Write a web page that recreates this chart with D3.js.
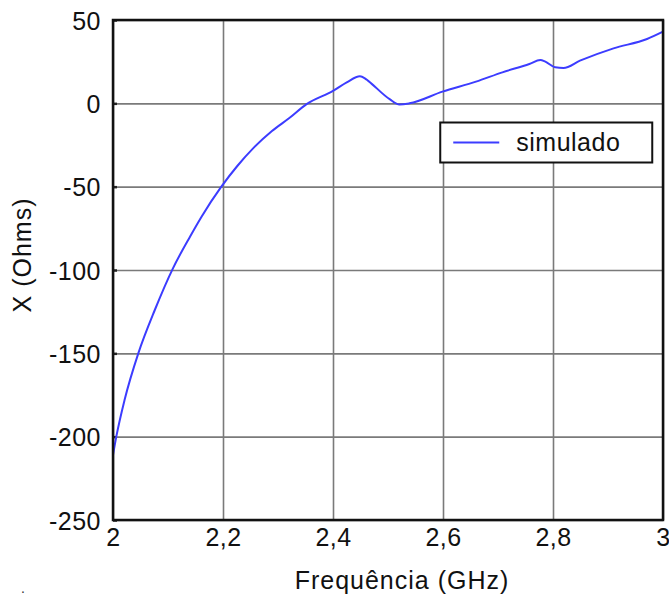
<!DOCTYPE html>
<html>
<head>
<meta charset="utf-8">
<script src="https://cdn.jsdelivr.net/npm/d3@7"></script>
<style>
  body { margin: 0; background: #fff; }
  svg { display: block; font-family: "Liberation Sans", Arial, sans-serif; }
  .grid line { stroke: #7a7a7a; stroke-width: 1.6; }
  .grid path { display: none; }
  .axis text { font-size: 25px; fill: #111; letter-spacing: 0.5px; }
  .axis path, .axis line { display: none; }
</style>
</head>
<body>
<script>
// frequency (GHz) and reactance X (Ohms)
var freq = [2.0, 2.006, 2.021, 2.046, 2.076, 2.109, 2.14, 2.161, 2.197, 2.226, 2.256, 2.289, 2.32, 2.352,
            2.4, 2.425, 2.449, 2.458, 2.464, 2.503, 2.521, 2.539, 2.599, 2.66, 2.708, 2.757, 2.777,
            2.786, 2.804, 2.819, 2.849, 2.91, 2.971, 3.0];
var reactance = [-211, -200, -178, -150, -124, -99, -80, -68, -50, -37.6, -26.6, -16.6, -9, -0.5,
                 7.5, 12.6, 16.2, 15, 13.5, 2.5, -0.7, 0, 7, 13, 18.6, 23.6, 26,
                 25, 21.6, 21.2, 25.6, 33, 38.6, 43];

var xTicks = [2, 2.2, 2.4, 2.6, 2.8, 3];
var xTickLabels = ["2", "2,2", "2,4", "2,6", "2,8", "3"];
var yTicks = [-250, -200, -150, -100, -50, 0, 50];
var yTickLabels = ["-250", "-200", "-150", "-100", "-50", "0", "50"];
var seriesName = "simulado";

var W = 669, H = 602;
var margin = { top: 20, right: 6, bottom: 82, left: 113 };
var width = W - margin.left - margin.right;
var height = H - margin.top - margin.bottom;

var svg = d3.select("body").append("svg")
    .attr("width", W)
    .attr("height", H);

var g = svg.append("g")
    .attr("transform", "translate(" + margin.left + "," + margin.top + ")");

var x = d3.scaleLinear().domain([2, 3]).range([0, width]);
var y = d3.scaleLinear().domain([-250, 50]).range([height, 0]);

// grid lines
g.append("g")
    .attr("class", "grid")
    .call(d3.axisBottom(x).tickValues(xTicks).tickSize(height).tickFormat(""));
g.append("g")
    .attr("class", "grid")
    .call(d3.axisLeft(y).tickValues(yTicks).tickSize(-width).tickFormat(""));

// small inward ticks on left axis
g.append("g")
    .call(d3.axisLeft(y).tickValues(yTicks).tickSize(-4).tickFormat(""))
    .call(function(s) {
      s.select(".domain").remove();
      s.selectAll("line").attr("stroke", "#222").attr("stroke-width", 2.5);
    });

// tick labels
g.append("g")
    .attr("class", "axis")
    .attr("transform", "translate(0," + height + ")")
    .call(d3.axisBottom(x).tickValues(xTicks).tickSize(0).tickPadding(8)
      .tickFormat(function(d, i) { return xTickLabels[i]; }));

g.append("g")
    .attr("class", "axis")
    .call(d3.axisLeft(y).tickValues(yTicks).tickSize(0).tickPadding(12)
      .tickFormat(function(d, i) { return yTickLabels[i]; }))
    .selectAll("text").attr("dy", "0.36em");

// curve
var line = d3.line()
    .x(function(d, i) { return x(freq[i]); })
    .y(function(d) { return y(d); })
    .curve(d3.curveMonotoneX);

g.append("path")
    .datum(reactance)
    .attr("fill", "none")
    .attr("stroke", "#3c3cff")
    .attr("stroke-width", 2)
    .attr("d", line);

// frame
g.append("rect")
    .attr("width", width)
    .attr("height", height)
    .attr("fill", "none")
    .attr("stroke", "#111")
    .attr("stroke-width", 2.5);

// legend
var legend = g.append("g")
    .attr("transform", "translate(" + (x(2.595) ) + "," + (y(-11.5)) + ")");
legend.append("rect")
    .attr("width", 212)
    .attr("height", 40)
    .attr("fill", "#fff")
    .attr("stroke", "#111")
    .attr("stroke-width", 2);
legend.append("line")
    .attr("x1", 13).attr("x2", 59)
    .attr("y1", 20).attr("y2", 20)
    .attr("stroke", "#3c3cff")
    .attr("stroke-width", 2);
legend.append("text")
    .attr("x", 76)
    .attr("y", 28)
    .style("font-size", "25px")
    .style("letter-spacing", "0.5px")
    .attr("fill", "#111")
    .text(seriesName);

// axis titles
svg.append("text")
    .attr("x", 402)
    .attr("y", 589)
    .attr("text-anchor", "middle")
    .style("font-size", "25px")
    .style("letter-spacing", "1px")
    .attr("fill", "#111")
    .text("Frequência (GHz)");

svg.append("text")
    .attr("transform", "translate(31,255) rotate(-90)")
    .attr("text-anchor", "middle")
    .style("font-size", "25px")
    .style("letter-spacing", "1px")
    .attr("fill", "#111")
    .text("X (Ohms)");

svg.append("text")
    .attr("x", 21)
    .attr("y", 593)
    .style("font-size", "14px")
    .attr("fill", "#333")
    .text(".");
</script>
</body>
</html>
